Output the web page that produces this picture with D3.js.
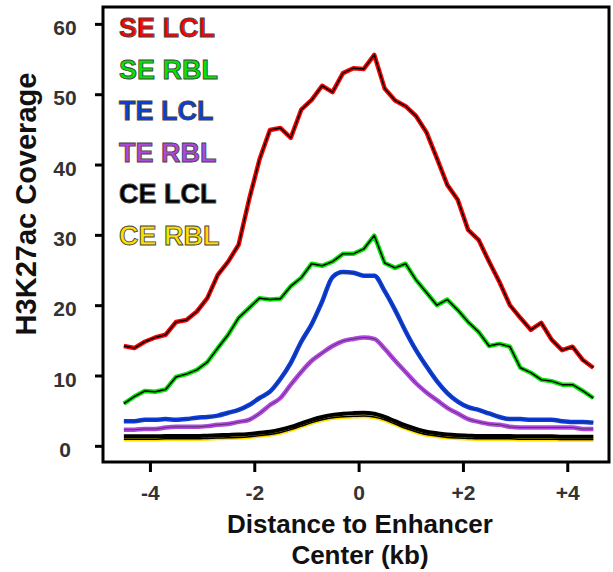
<!DOCTYPE html>
<html>
<head>
<meta charset="utf-8">
<script src="https://cdn.jsdelivr.net/npm/d3@7"></script>
<style>
  body { margin: 0; background: #fff; }
  svg { display: block; font-family: "Liberation Sans", Arial, sans-serif; font-weight: bold; }
</style>
</head>
<body>
<div id="chart"></div>
<script>
// distance to enhancer center (kb), one sample every 0.2 kb
const distance = d3.range(46).map(i => +(-4.5 + i * 0.2).toFixed(1));

const seLCL = [14.2, 13.9, 14.8, 15.4, 15.8, 17.6, 17.9, 19.1, 21.0, 24.3, 26.2, 28.6, 35.0, 40.7, 44.9, 45.2,
  43.8, 47.8, 49.2, 51.2, 50.3, 53.0, 53.7, 53.6, 55.6, 50.8, 49.1, 48.3, 46.9, 44.6, 40.9, 37.1,
  35.0, 30.7, 29.3, 26.2, 23.3, 20.0, 18.2, 16.5, 17.5, 15.1, 13.6, 14.1, 12.2, 11.1];
const seRBL = [6.0, 7.0, 7.8, 7.7, 8.0, 9.8, 10.2, 10.8, 11.9, 13.9, 15.8, 18.2, 19.6, 21.0, 20.8, 20.9,
  22.7, 23.9, 25.9, 25.6, 26.2, 27.3, 27.3, 28.0, 29.9, 26.0, 25.3, 25.9, 23.6, 21.8, 20.0, 20.8,
  19.3, 17.6, 16.2, 14.2, 14.5, 14.1, 11.1, 10.4, 9.4, 9.2, 8.7, 8.7, 7.8, 6.8];
const teLCL = [3.5, 3.5, 3.7, 3.7, 3.8, 3.7, 3.8, 4.0, 4.1, 4.3, 4.7, 5.1, 5.8, 6.8, 7.7, 9.5,
  11.8, 14.8, 17.3, 20.5, 24.0, 24.7, 24.6, 24.2, 24.2, 22.0, 19.3, 16.3, 13.6, 11.3, 9.2, 7.5,
  6.3, 5.5, 5.1, 4.6, 4.1, 3.8, 3.8, 3.7, 3.7, 3.7, 3.5, 3.4, 3.4, 3.3];
const teRBL = [2.3, 2.3, 2.4, 2.4, 2.6, 2.7, 2.7, 2.7, 2.8, 3.0, 3.1, 3.4, 3.7, 4.6, 5.8, 6.8,
  8.7, 10.5, 12.1, 13.2, 14.2, 14.9, 15.2, 15.4, 15.2, 13.8, 12.1, 10.5, 8.9, 7.6, 6.5, 5.4,
  4.6, 3.8, 3.4, 3.1, 3.0, 2.7, 2.6, 2.6, 2.6, 2.6, 2.6, 2.6, 2.4, 2.4];
const ceLCL = [1.35, 1.35, 1.35, 1.35, 1.4, 1.4, 1.4, 1.4, 1.45, 1.5, 1.55, 1.6, 1.7, 1.85, 2.0, 2.3,
  2.7, 3.2, 3.7, 4.1, 4.4, 4.55, 4.65, 4.7, 4.55, 4.1, 3.5, 2.9, 2.4, 2.0, 1.8, 1.6,
  1.5, 1.45, 1.4, 1.4, 1.4, 1.4, 1.35, 1.35, 1.35, 1.35, 1.3, 1.3, 1.3, 1.3];
const ceRBL = [0.95, 0.95, 0.95, 0.95, 1.0, 1.0, 1.0, 1.0, 1.05, 1.1, 1.15, 1.2, 1.3, 1.45, 1.6, 1.9,
  2.3, 2.8, 3.3, 3.7, 4.0, 4.15, 4.2, 4.25, 4.1, 3.7, 3.1, 2.5, 2.0, 1.6, 1.4, 1.2,
  1.1, 1.05, 1.0, 1.0, 1.0, 1.0, 0.95, 0.95, 0.95, 0.95, 0.9, 0.9, 0.9, 0.9];

const seriesNames = ["SE LCL", "SE RBL", "TE LCL", "TE RBL", "CE LCL", "CE RBL"];
const seriesValues = [seLCL, seRBL, teLCL, teRBL, ceLCL, ceRBL];
const seriesColors = ["#ff0000", "#00e600", "#0a3ee0", "#b048e0", "#000000", "#ffde00"];
const smooth = [false, false, true, true, true, true];

const xTicks = [-4, -2, 0, 2, 4];
const xTickLabels = ["-4", "-2", "0", "+2", "+4"];
const yTicks = [0, 10, 20, 30, 40, 50, 60];

const width = 613, height = 572;
const frame = { left: 103, right: 609, top: 7, bottom: 462 };

const svg = d3.select("#chart").append("svg")
    .attr("width", width)
    .attr("height", height);

const x = d3.scaleLinear().domain([-4.9, 4.8]).range([frame.left, frame.right]);
const y = d3.scaleLinear().domain([-2.3, 62.4]).range([frame.bottom, frame.top]);

// axes
const yAxis = svg.append("g")
    .attr("transform", `translate(${frame.left},0)`)
    .call(d3.axisLeft(y).tickValues(yTicks).tickSize(8).tickPadding(30).tickFormat(d3.format("d")));
const xAxis = svg.append("g")
    .attr("transform", `translate(0,${frame.bottom})`)
    .call(d3.axisBottom(x).tickValues(xTicks).tickSize(10).tickPadding(13)
        .tickFormat((d, i) => xTickLabels[i]));
[xAxis, yAxis].forEach(g => {
    g.select(".domain").remove();
    g.selectAll(".tick line").attr("stroke", "#000").attr("stroke-width", 3);
    g.selectAll(".tick text")
        .attr("fill", "#333")
        .style("font-size", "21px")
        .style("font-weight", "bold");
});
// y labels are centred on a column, not right-aligned
yAxis.selectAll(".tick text").attr("text-anchor", "middle").attr("dy", "0.5em");

// lines, last series drawn first so the black one sits over the yellow
const line = d3.line().x((d, i) => x(distance[i])).y(d => y(d));
const plot = svg.append("g");
seriesValues.map((v, i) => i).reverse().forEach(i => {
    const gen = line.curve(smooth[i] ? d3.curveMonotoneX : d3.curveLinear);
    const path = gen(seriesValues[i]);
    plot.append("path")
        .attr("d", path)
        .attr("fill", "none")
        .attr("stroke", seriesColors[i])
        .attr("stroke-width", i === 4 ? 4 : 4.5)
        .attr("stroke-linejoin", "round");
    if (i !== 4) {
        plot.append("path")
            .attr("d", path)
            .attr("fill", "none")
            .attr("stroke", i === 2 || i === 3 ? "#222" : "#000")
            .attr("stroke-width", i === 2 || i === 3 ? 1 : 1.5)
            .attr("stroke-opacity", i === 2 || i === 3 ? 0.6 : 1)
            .attr("stroke-linejoin", "round");
    }
});

// frame
svg.append("rect")
    .attr("x", frame.left)
    .attr("y", frame.top)
    .attr("width", frame.right - frame.left)
    .attr("height", frame.bottom - frame.top)
    .attr("fill", "none")
    .attr("stroke", "#000")
    .attr("stroke-width", 3);

// legend
svg.append("g").selectAll("text")
    .data(seriesNames)
    .join("text")
        .attr("x", 119)
        .attr("y", (d, i) => 37 + i * 41.5)
        .attr("fill", (d, i) => seriesColors[i])
        .attr("stroke", "#444")
        .attr("stroke-width", 0.9)
        .style("font-size", "27px")
        .text(d => d);

// axis titles
svg.append("text")
    .attr("transform", "translate(36,204) rotate(-90)")
    .attr("text-anchor", "middle")
    .attr("fill", "#111")
    .style("font-size", "29px")
    .text("H3K27ac Coverage");
const xTitle = svg.append("text")
    .attr("text-anchor", "middle")
    .attr("fill", "#111")
    .style("font-size", "26px");
xTitle.append("tspan").attr("x", 360).attr("y", 533).text("Distance to Enhancer");
xTitle.append("tspan").attr("x", 360).attr("y", 564).text("Center (kb)");
</script>
</body>
</html>
